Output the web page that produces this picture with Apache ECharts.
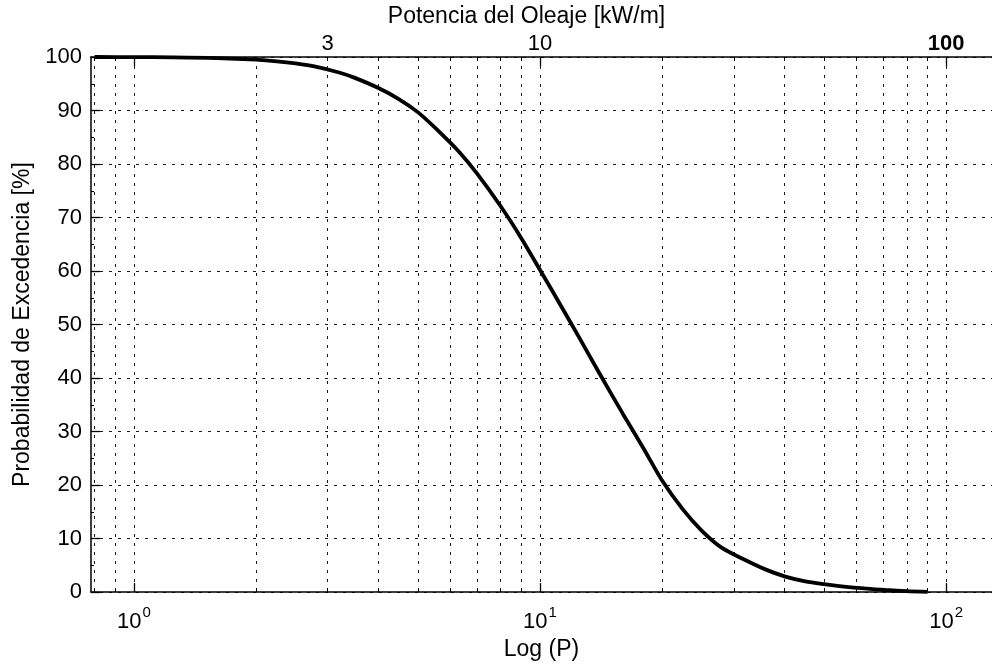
<!DOCTYPE html>
<html>
<head>
<meta charset="utf-8">
<script src="https://cdn.jsdelivr.net/npm/echarts@6/dist/echarts.min.js"></script>
<style>
  html, body { margin: 0; padding: 0; background: #fff; }
  #chart { width: 992px; height: 666px; }
</style>
</head>
<body>
<div id="chart"></div>
<script>
// ---- data ----
const powerKW = [0.8, 1, 1.25, 1.6, 2, 2.25, 2.5, 2.8, 3.2, 3.5, 4, 4.5, 5, 5.6, 6.3, 7, 8, 9, 10, 11.2, 12.5, 14, 16, 18, 20, 22.5, 25, 28, 32, 36, 40, 45, 50, 56, 63, 71, 80, 90];
const exceedance = [100, 99.98, 99.94, 99.8, 99.5, 99.2, 98.8, 98.2, 97.1, 96.1, 94.2, 92.1, 89.7, 86.3, 82.4, 78.2, 72.1, 66.1, 60.2, 53.8, 47.5, 40.9, 33.3, 26.8, 20.8, 15.4, 11.5, 8.3, 6.0, 4.2, 2.95, 2.0, 1.48, 1.04, 0.68, 0.39, 0.18, 0.06];
const xTickValues = [0.8, 0.9, 1, 2, 3, 4, 5, 6, 7, 8, 9, 10, 20, 30, 40, 50, 60, 70, 80, 90, 100];
const xMajorValues = [1, 10, 100];
const topLabelValues = [3, 10, 100];
const yMin = 0, yMax = 100, yStep = 10;

const FONT = 'Liberation Sans, Arial, Helvetica, sans-serif';
const X_MIN = 0.784, X_MAX = 129.7;

const chart = echarts.init(document.getElementById('chart'), null, { renderer: 'canvas' });

const gridLine = { show: true, lineStyle: { color: '#000', width: 1, type: [3, 6], opacity: 0.9 } };
const axisLine = { show: true, lineStyle: { color: '#000', width: 1.5 } };

const data = powerKW.map((p, i) => [p, exceedance[i]]);

const option = {
  backgroundColor: '#fff',
  animation: false,
  grid: { left: 91, right: 0, top: 57, bottom: 70, containLabel: false },
  xAxis: [
    {
      type: 'log', position: 'bottom', min: X_MIN, max: X_MAX,
      name: 'Log (P)', nameLocation: 'middle', nameGap: 43,
      nameTextStyle: { fontFamily: FONT, fontSize: 23, color: '#000' },
      axisLine: axisLine,
      axisTick: { show: true, inside: true, length: 4, customValues: xTickValues, lineStyle: { color: '#000', width: 1 } },
      axisLabel: {
        show: true, margin: 13, customValues: xMajorValues,
        formatter: v => '{b|10}{s|' + Math.round(Math.log10(v)) + '}',
        rich: {
          b: { fontFamily: FONT, fontSize: 22, color: '#000', lineHeight: 34, verticalAlign: 'middle' },
          s: { fontFamily: FONT, fontSize: 15, color: '#000', lineHeight: 14, verticalAlign: 'top', padding: [0, 0, 0, 1] }
        }
      },
      splitLine: gridLine,
      minorTick: { show: false }
    },
    {
      type: 'log', position: 'top', min: X_MIN, max: X_MAX,
      name: 'Potencia del Oleaje [kW/m]', nameLocation: 'middle', nameGap: 27,
      nameTextStyle: { fontFamily: FONT, fontSize: 23, color: '#000', padding: [0, 30, 0, 0] },
      axisLine: axisLine,
      axisTick: { show: true, inside: true, length: 4, customValues: xTickValues, lineStyle: { color: '#000', width: 1 } },
      axisLabel: {
        show: true, margin: 2, customValues: topLabelValues,
        formatter: v => (v === 100 ? '{h|100}' : '{n|' + v + '}'),
        rich: {
          n: { fontFamily: FONT, fontSize: 22, color: '#000' },
          h: { fontFamily: FONT, fontSize: 22, color: '#000', fontWeight: 'bold' }
        }
      },
      splitLine: { show: false }
    },
    {
      type: 'log', position: 'bottom', min: X_MIN, max: X_MAX,
      axisLine: { show: false },
      axisTick: { show: true, inside: true, length: 9, customValues: xMajorValues, lineStyle: { color: '#000', width: 1.3 } },
      axisLabel: { show: false },
      splitLine: { show: false }
    },
    {
      type: 'log', position: 'top', min: X_MIN, max: X_MAX,
      axisLine: { show: false },
      axisTick: { show: true, inside: true, length: 9, customValues: xMajorValues, lineStyle: { color: '#000', width: 1.3 } },
      axisLabel: { show: false },
      splitLine: { show: false }
    }
  ],
  yAxis: [
    {
      type: 'value', position: 'left', min: yMin, max: yMax, interval: yStep,
      name: 'Probabilidad de Excedencia [%]', nameLocation: 'middle', nameGap: 57,
      nameTextStyle: { fontFamily: FONT, fontSize: 23, color: '#000' },
      axisLine: axisLine,
      axisTick: { show: true, inside: true, length: 9, lineStyle: { color: '#000', width: 1.3 } },
      minorTick: { show: true, splitNumber: 2, length: 3, lineStyle: { color: '#000', width: 1 } },
      axisLabel: { fontFamily: FONT, fontSize: 22, color: '#000', margin: 9 },
      splitLine: gridLine
    }
  ],
  series: [
    {
      type: 'line', xAxisIndex: 0, yAxisIndex: 0,
      data: data, smooth: 0.3, showSymbol: false, symbol: 'none',
      lineStyle: { color: '#000', width: 3.8 },
      z: 5
    }
  ]
};

chart.setOption(option);
</script>
</body>
</html>
